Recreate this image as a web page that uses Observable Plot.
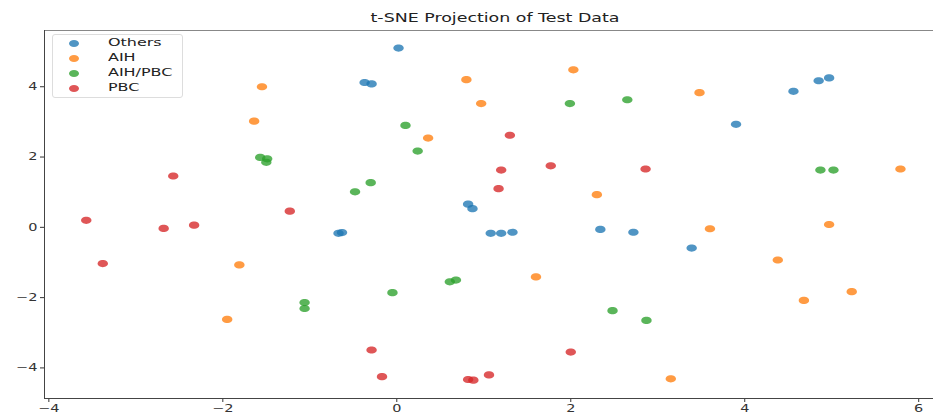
<!DOCTYPE html>
<html>
<head>
<meta charset="utf-8">
<script src="https://cdn.jsdelivr.net/npm/d3@7"></script>
<script src="https://cdn.jsdelivr.net/npm/@observablehq/plot@0.6"></script>
<style>
  body { margin: 0; background: #fff; }
  #wrap { position: relative; width: 933px; height: 414px; overflow: hidden; font-family: "DejaVu Sans", sans-serif; }
  #title { position: absolute; top: 11px; left: 495px; transform: translateX(-50%) scaleX(1.45); font-size: 12px; color: #222; white-space: nowrap; }
  #legend { position: absolute; left: 52px; top: 34px; width: 129px; height: 62px; border: 1px solid #ddd; border-radius: 3px; background: rgba(255,255,255,0.85); }
  .row { position: absolute; left: 0; height: 14px; width: 100%; }
  .sw { position: absolute; left: 16px; top: 3.5px; width: 10px; height: 7px; border-radius: 50%; }
  .lab { position: absolute; left: 55px; top: 0; font-size: 11px; line-height: 14px; color: #222; transform: scaleX(1.45); transform-origin: left center; white-space: nowrap; }
</style>
</head>
<body>
<div id="wrap">
  <div id="title"></div>
  <div id="legend"></div>
</div>
<script>
// Diagnosis groups, legend order and matching colours
const categories = ["Others", "AIH", "AIH/PBC", "PBC"];
const colors = ["#1f77b4", "#ff7f0e", "#2ca02c", "#d62728"];

// 2-D t-SNE coordinates per group, [x, y]
const othersPts = [
  [0.02, 5.1], [-0.37, 4.12], [-0.29, 4.08], [-0.67, -0.17], [-0.63, -0.15],
  [0.82, 0.66], [0.87, 0.53], [1.08, -0.17], [1.2, -0.17], [1.33, -0.14],
  [2.34, -0.06], [2.72, -0.14], [3.39, -0.59], [3.9, 2.93], [4.56, 3.87],
  [4.85, 4.17], [4.97, 4.25]
];
const aihPts = [
  [-1.55, 4.0], [-1.64, 3.02], [-1.81, -1.07], [-1.95, -2.62], [0.8, 4.2],
  [0.97, 3.52], [0.36, 2.54], [2.03, 4.48], [2.3, 0.93], [3.48, 3.83],
  [3.6, -0.04], [4.97, 0.08], [4.38, -0.93], [5.23, -1.83], [4.68, -2.08],
  [1.6, -1.41], [3.15, -4.31], [5.79, 1.66]
];
const aihPbcPts = [
  [-1.57, 1.99], [-1.49, 1.95], [-1.5, 1.85], [-1.06, -2.14], [-1.06, -2.31],
  [-0.05, -1.86], [0.61, -1.55], [0.68, -1.5], [0.1, 2.9], [0.24, 2.17],
  [-0.3, 1.27], [-0.48, 1.01], [1.99, 3.52], [2.65, 3.63], [4.87, 1.63],
  [5.02, 1.63], [2.48, -2.37], [2.87, -2.65]
];
const pbcPts = [
  [-2.57, 1.46], [-3.57, 0.2], [-2.68, -0.03], [-2.33, 0.06], [-1.23, 0.46],
  [-3.38, -1.03], [1.3, 2.62], [1.2, 1.63], [1.77, 1.75], [1.17, 1.1],
  [2.86, 1.66], [-0.29, -3.49], [-0.17, -4.25], [0.82, -4.33], [0.88, -4.35],
  [1.06, -4.2], [2.0, -3.55]
];
const xTicks = [-4, -2, 0, 2, 4, 6];
const yTicks = [-4, -2, 0, 2, 4];
const titleText = "t-SNE Projection of Test Data";

const groups = [othersPts, aihPts, aihPbcPts, pbcPts];
const points = groups.flatMap((pts, i) => pts.map(([x, y]) => ({x, y, group: categories[i]})));

// Slightly flattened marker: an ellipse drawn with cubic Béziers
const ellipse = {
  draw(ctx) {
    const rx = 5.2, ry = 3.6, k = 0.5523;
    ctx.moveTo(rx, 0);
    ctx.bezierCurveTo(rx, k * ry, k * rx, ry, 0, ry);
    ctx.bezierCurveTo(-k * rx, ry, -rx, k * ry, -rx, 0);
    ctx.bezierCurveTo(-rx, -k * ry, -k * rx, -ry, 0, -ry);
    ctx.bezierCurveTo(k * rx, -ry, rx, -k * ry, rx, 0);
    ctx.closePath();
  }
};

const chart = Plot.plot({
  width: 933,
  height: 414,
  marginLeft: 44,
  marginRight: 0,
  marginTop: 30,
  marginBottom: 16,
  style: {fontFamily: "DejaVu Sans, sans-serif", fontSize: "10px", color: "#333", background: "#fff"},
  x: {domain: [-4.05, 6.17], ticks: xTicks, tickSize: 4, tickPadding: 2, label: null, tickFormat: d => String(d).replace("-", "\u2212")},
  y: {domain: [-4.87, 5.6], ticks: yTicks, tickSize: 4, tickPadding: 3, label: null, tickFormat: d => String(d).replace("-", "\u2212")},
  color: {domain: categories, range: colors},
  marks: [
    Plot.frame({anchor: "top", stroke: "#888"}),
    Plot.frame({anchor: "left", stroke: "#444"}),
    Plot.frame({anchor: "bottom", stroke: "#444"}),
    Plot.dot(points, {x: "x", y: "y", fill: "group", fillOpacity: 0.78, stroke: "none", symbol: ellipse, r: 4})
  ]
});

const wrap = document.getElementById("wrap");
wrap.insertBefore(chart, wrap.firstChild);
chart.style.position = "absolute";
chart.style.left = "0";
chart.style.top = "0";

// Widen the axis tick labels to the same proportions as the rest of the figure
chart.querySelectorAll("text").forEach(t => {
  const w = t.getComputedTextLength();
  t.setAttribute("textLength", (w * 1.45).toFixed(1));
  t.setAttribute("lengthAdjust", "spacingAndGlyphs");
});

document.getElementById("title").textContent = titleText;

const legend = document.getElementById("legend");
categories.forEach((c, i) => {
  const row = document.createElement("div");
  row.className = "row";
  row.style.top = (1 + i * 15) + "px";
  const sw = document.createElement("div");
  sw.className = "sw";
  sw.style.background = colors[i];
  sw.style.opacity = 0.78;
  const lab = document.createElement("div");
  lab.className = "lab";
  lab.textContent = c;
  row.appendChild(sw);
  row.appendChild(lab);
  legend.appendChild(row);
});
</script>
</body>
</html>
